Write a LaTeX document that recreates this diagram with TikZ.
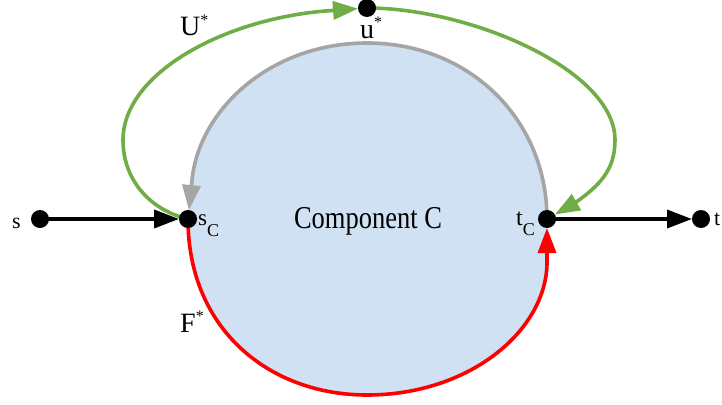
\documentclass[tikz,border=0pt]{standalone}
\usepackage{fontspec}
\setmainfont{Liberation Serif}
\usetikzlibrary{arrows.meta}
\definecolor{cfill}{RGB}{207,225,242}
\definecolor{cgreen}{RGB}{112,173,71}
\definecolor{cgray}{RGB}{165,165,165}
\definecolor{cred}{RGB}{255,0,0}
\newcommand{\fs}[1]{\fontsize{#1}{#1}\selectfont}
\pgfdeclarelayer{bglayer}
\pgfdeclarelayer{edgelayer}
\pgfsetlayers{bglayer,edgelayer,main}
\begin{document}
\begin{tikzpicture}[x=1pt,y=-1pt,
  dot/.style={circle,fill=black,inner sep=0pt,minimum size=18pt},
  lbl/.style={inner sep=0pt,anchor=base west},
  tipa/.style={-{Triangle[length=25pt,width=18pt]},shorten >=9pt},
  edgeline/.style={line width=3.6pt},
]
\useasboundingbox (0,0) rectangle (722,404);
% nodes
\node[dot] (s) at (40,219) {};
\node[dot] (sC) at (188,219) {};
\node[dot] (tC) at (547,219) {};
\node[dot] (t) at (701,219) {};
\node[dot] (ustar) at (367,8) {};
\coordinate (ctop) at (367,43);
\coordinate (cbot) at (367,395);
\coordinate (rq) at (547,262);
\coordinate (gq) at (192,180);
\coordinate (gl) at (123,140);
\coordinate (gr) at (615,140);
\coordinate (uq) at (325,11);
\coordinate (tq) at (575,203);
% component fill
\begin{pgfonlayer}{bglayer}
\fill[cfill] (sC.center) .. controls (188,330) and (270,395) .. (cbot)
  .. controls (470,395) and (547,330) .. (rq) -- (tC.center)
  .. controls (547,120) and (470,43) .. (ctop)
  .. controls (270,43) and (199,110) .. (gq) -- (sC.center) -- cycle;
\end{pgfonlayer}
% edges
\begin{pgfonlayer}{edgelayer}
\draw[edgeline,black,tipa] (s.center) -- (sC.center);
\draw[edgeline,black,tipa] (tC.center) -- (t.center);
\draw[edgeline,cred,tipa] (sC.center) .. controls (188,330) and (270,395) .. (cbot)
  .. controls (470,395) and (547,330) .. (rq) -- (tC.center);
\draw[edgeline,cgray,tipa] (tC.center) .. controls (547,120) and (470,43) .. (ctop)
  .. controls (270,43) and (199,110) .. (gq) -- (sC.center);
\draw[edgeline,cgreen,tipa] (sC.center) .. controls (150,210) and (123,180) .. (gl)
  .. controls (123,75) and (220,20) .. (uq) -- (ustar.center);
\draw[edgeline,cgreen,tipa] (ustar.center) .. controls (470,8) and (615,70) .. (gr)
  .. controls (615,170) and (600,185) .. (tq) -- (tC.center);
\end{pgfonlayer}
% labels
\node[lbl] (ls) at (12,228) {\fs{22}s};
\node[lbl] (lt) at (714,225) {\fs{22}t};
\node[lbl] (lsC) at (198,225) {\fs{23}s\raisebox{-11pt}{\fs{18}C}};
\node[lbl] (ltC) at (516,225) {\fs{24}t\raisebox{-10pt}{\fs{18}C}};
\node[lbl] (lU) at (180,36) {\fs{28}U\raisebox{10pt}{\fs{16}*}};
\node[lbl] (lu) at (360,38) {\fs{28}u\raisebox{10pt}{\fs{16}*}};
\node[lbl] (lF) at (180,332) {\fs{28}F\raisebox{11pt}{\fs{16}*}};
\node (lC) at (368,221) {\scalebox{1}[1.2]{\fs{26.5}Component C}};
\end{tikzpicture}
\end{document}
